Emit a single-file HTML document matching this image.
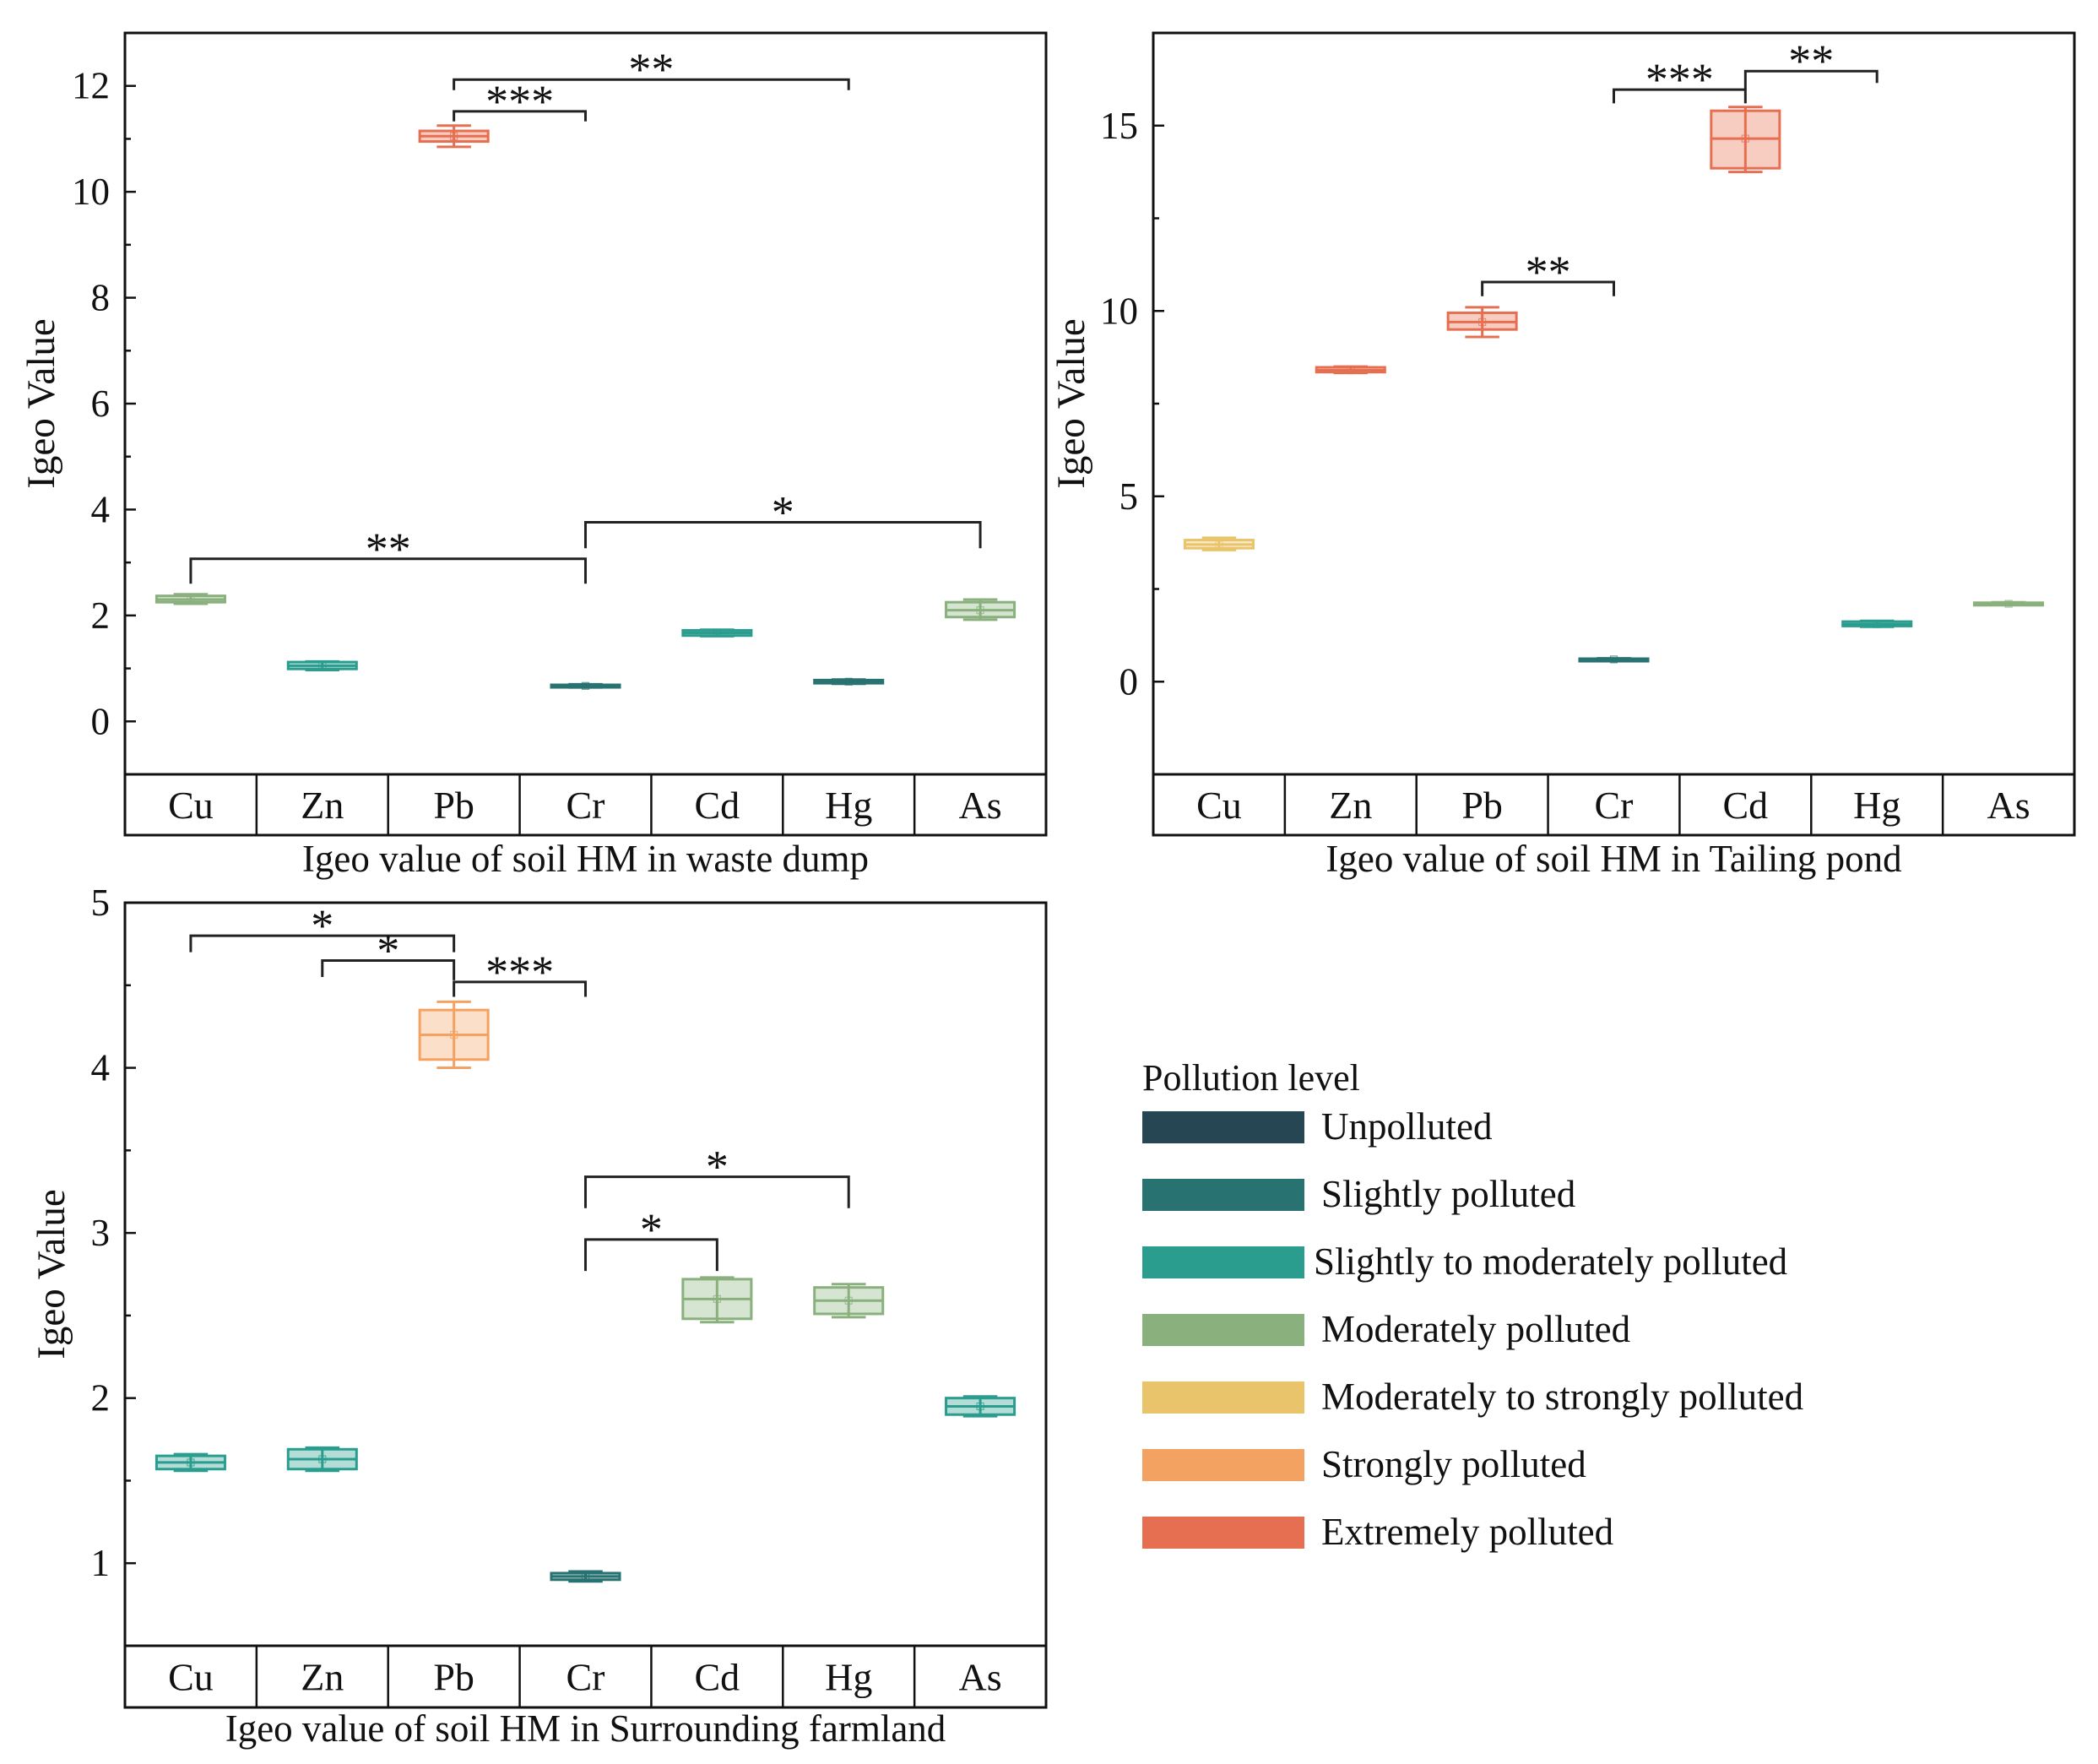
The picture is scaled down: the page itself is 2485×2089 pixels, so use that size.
<!DOCTYPE html>
<html><head><meta charset="utf-8"><style>
html,body{margin:0;padding:0;background:#fff}
svg{display:block}
text{font-family:"Liberation Serif",serif;fill:#111}
</style></head><body>
<svg id="fig" width="2485" height="2089" viewBox="0 0 2485 2089" xmlns="http://www.w3.org/2000/svg">
<g id="legend"></g>
</svg>
<script>
const categories = ["Cu","Zn","Pb","Cr","Cd","Hg","As"];
// panel 1: waste dump  [whiskerLow, q1, median, q3, whiskerHigh]
const dumpLow = [2.22,0.97,10.85,0.64,1.61,0.71,1.92];
const dumpQ1 = [2.25,0.99,10.95,0.65,1.62,0.72,1.97];
const dumpMed = [2.30,1.05,11.05,0.67,1.67,0.75,2.10];
const dumpQ3 = [2.37,1.12,11.15,0.69,1.72,0.78,2.25];
const dumpHigh = [2.40,1.13,11.25,0.70,1.73,0.79,2.30];
const dumpLevel = [3,2,6,1,2,1,3];
const dumpTicks = [0,2,4,6,8,10,12];
// panel 2: tailing pond
const pondLow = [3.55,8.33,9.30,0.57,13.75,1.48,2.07];
const pondQ1 = [3.60,8.35,9.50,0.58,13.85,1.50,2.08];
const pondMed = [3.70,8.40,9.70,0.60,14.65,1.55,2.10];
const pondQ3 = [3.82,8.48,9.95,0.62,15.40,1.62,2.13];
const pondHigh = [3.88,8.50,10.10,0.63,15.50,1.64,2.14];
const pondLevel = [4,6,6,1,6,2,3];
const pondTicks = [0,5,10,15];
// panel 3: surrounding farmland
const farmLow = [1.56,1.56,4.00,0.89,2.46,2.49,1.89];
const farmQ1 = [1.57,1.57,4.05,0.90,2.48,2.51,1.90];
const farmMed = [1.61,1.63,4.20,0.92,2.60,2.59,1.95];
const farmQ3 = [1.65,1.69,4.35,0.94,2.72,2.67,2.00];
const farmHigh = [1.66,1.70,4.40,0.95,2.73,2.69,2.01];
const farmLevel = [2,2,5,1,3,3,2];
const farmTicks = [1,2,3,4,5];
// significance brackets: [fromIdx, toIdx, barValue, fromEnd, toEnd, label]
const dumpSig = [[2,5,12.12,11.92,11.92,"**"],[2,3,11.52,11.33,11.33,"***"],[0,3,3.07,2.6,2.6,"**"],[3,6,3.76,3.27,3.27,"*"]];
const pondSig = [[3,4,15.97,15.6,15.6,"***"],[4,5,16.47,15.97,16.15,"**"],[2,3,10.78,10.4,10.4,"**"]];
const farmSig = [[0,2,4.8,4.7,4.7,"*"],[1,2,4.65,4.55,4.53,"*"],[2,3,4.52,4.43,4.43,"***"],[3,5,3.34,3.15,3.15,"*"],[3,4,2.96,2.77,2.77,"*"]];
const levelNames = ["Unpolluted","Slightly polluted","Slightly  to moderately  polluted","Moderately  polluted","Moderately to strongly polluted","Strongly  polluted","Extremely polluted"];
const levelColors = ["#264653","#287271","#2a9d8f","#8ab17d","#e9c46a","#f4a261","#e76f51"];

const NS="http://www.w3.org/2000/svg";
const svg=document.getElementById('fig');
function mk(tag,attrs,parent){const e=document.createElementNS(NS,tag);for(const k in attrs)e.setAttribute(k,attrs[k]);(parent||svg).appendChild(e);return e;}

function panel(cfg){
  const g=mk('g',{});
  
  
  const {x0,x1,y0,y1,catB,vmin,vmax}=cfg;
  const Y=v=>y1-(v-vmin)/(vmax-vmin)*(y1-y0);
  const cw=(x1-x0)/categories.length;
  const X=i=>x0+cw*(i+0.5);
  const fr=mk('rect',{x:x0,y:y0,width:x1-x0,height:catB-y0,fill:'none',stroke:'#111','stroke-width':3},g);
  
  
  mk('line',{x1:x0,x2:x1,y1:y1,y2:y1,stroke:'#111','stroke-width':3},g);
  categories.forEach((c,i)=>{
    if(i>0){mk('line',{x1:x0+cw*i,x2:x0+cw*i,y1:y1,y2:catB,stroke:'#111','stroke-width':2.5},g);}
    const t=mk('text',{x:X(i),y:(y1+catB)/2+16,'text-anchor':'middle','font-size':46},g);
    t.textContent=c;
    
    
  });
  for(let v=Math.ceil(vmin/cfg.minor)*cfg.minor; v<=vmax+1e-9; v+=cfg.minor){
    const yy=Y(v); if(yy>y1-1||yy<y0+1)continue;
    const major=cfg.ticks.some(t=>Math.abs(t-v)<1e-6);
    mk('line',{x1:x0,x2:x0+(major?13:7),y1:yy,y2:yy,stroke:'#111','stroke-width':2.5},g);
  }
  cfg.ticks.forEach(t=>{
    const tx=mk('text',{x:x0-18,y:Y(t)+15,'text-anchor':'end','font-size':45},g);
    tx.textContent=t;
    
    
  });
  const yt=mk('text',{x:0,y:0,'text-anchor':'middle','font-size':47,transform:`translate(${cfg.ytx},${(y0+y1)/2}) rotate(-90)`},g);
  yt.textContent='Igeo Value';
  
  
  const xt=mk('text',{x:(x0+x1)/2,y:cfg.titleY,'text-anchor':'middle','font-size':45},g);
  xt.textContent=cfg.title;
  
  
  const bw=cw*0.52;
  categories.forEach((c,i)=>{
    const col=levelColors[cfg.level[i]];
    const bg=mk('g',{},g);
    
    
    const cx=X(i);
    mk('line',{x1:cx,x2:cx,y1:Y(cfg.lo[i]),y2:Y(cfg.hi[i]),stroke:col,'stroke-width':3},bg);
    mk('line',{x1:cx-bw/4,x2:cx+bw/4,y1:Y(cfg.lo[i]),y2:Y(cfg.lo[i]),stroke:col,'stroke-width':3},bg);
    mk('line',{x1:cx-bw/4,x2:cx+bw/4,y1:Y(cfg.hi[i]),y2:Y(cfg.hi[i]),stroke:col,'stroke-width':3},bg);
    const yq3=Y(cfg.q3[i]),yq1=Y(cfg.q1[i]);
    mk('rect',{x:cx-bw/2,y:yq3,width:bw,height:Math.max(yq1-yq3,3),fill:col,'fill-opacity':0.35,stroke:col,'stroke-width':3},bg);
    mk('line',{x1:cx-bw/2,x2:cx+bw/2,y1:Y(cfg.med[i]),y2:Y(cfg.med[i]),stroke:col,'stroke-width':3},bg);
    mk('rect',{x:cx-4,y:Y(cfg.med[i])-4,width:8,height:8,fill:'none',stroke:col,'stroke-width':1.2,'stroke-opacity':0.7},bg);
  });
  cfg.sig.forEach(s=>{
    const sg=mk('g',{},g);
    
    
    const xa=X(s[0]),xb=X(s[1]),yb=Y(s[2]);
    mk('polyline',{points:`${xa},${Y(s[3])} ${xa},${yb} ${xb},${yb} ${xb},${Y(s[4])}`,fill:'none',stroke:'#222','stroke-width':3},sg);
    const st=mk('text',{x:(xa+xb)/2,y:yb+6,'text-anchor':'middle','font-size':54},sg);
    st.textContent=s[5];
  });
}
panel({name:'panel-waste-dump',x0:148,x1:1239,y0:39,y1:917,catB:989,vmin:-1,vmax:13,minor:1,ticks:dumpTicks,
  lo:dumpLow,q1:dumpQ1,med:dumpMed,q3:dumpQ3,hi:dumpHigh,level:dumpLevel,sig:dumpSig,
  title:'Igeo value of soil HM in waste dump',titleY:1032,ytx:64});
panel({name:'panel-tailing-pond',x0:1366,x1:2457,y0:39,y1:917,catB:989,vmin:-2.5,vmax:17.5,minor:2.5,ticks:pondTicks,
  lo:pondLow,q1:pondQ1,med:pondMed,q3:pondQ3,hi:pondHigh,level:pondLevel,sig:pondSig,
  title:'Igeo value of soil HM in Tailing pond',titleY:1032,ytx:1284});
panel({name:'panel-farmland',x0:148,x1:1239,y0:1069,y1:1949,catB:2022,vmin:0.5,vmax:5,minor:0.5,ticks:farmTicks,
  lo:farmLow,q1:farmQ1,med:farmMed,q3:farmQ3,hi:farmHigh,level:farmLevel,sig:farmSig,
  title:'Igeo value of soil HM in Surrounding farmland',titleY:2062,ytx:76});
const lg=document.getElementById('legend');
const lt=mk('text',{x:1353,y:1291,'font-size':44},lg);
lt.textContent='Pollution level';


levelNames.forEach((n,i)=>{
  const y=1316+i*80;
  const e=mk('g',{},lg);
  
  
  mk('rect',{x:1353,y:y,width:192,height:38,fill:levelColors[i]},e);
  const t=mk('text',{x:i===2?1556:1565,y:y+33,'font-size':45,'xml:space':'preserve'},e);
  t.textContent=n;
});
</script>
</body></html>
